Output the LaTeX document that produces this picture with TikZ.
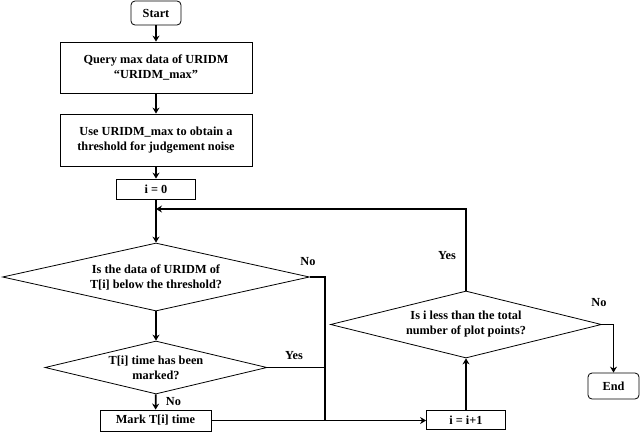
\documentclass[tikz,border=0pt]{standalone}
\usepackage{fontspec}
\setmainfont{Liberation Serif}
\usetikzlibrary{shapes.geometric,arrows.meta}

\begin{document}
\begin{tikzpicture}[x=1pt, y=-1pt,
    font=\fontsize{12.3}{15}\selectfont\bfseries,
    box/.style={draw, line width=0.8pt, align=center, inner sep=0pt},
    term/.style={box, rounded corners=4pt},
    decision/.style={draw, diamond, line width=0.8pt, inner sep=0pt},
    line/.style={line width=1.8pt},
    arr/.style={line, -{Stealth[length=6pt, width=7pt, inset=2pt]}}]
    \useasboundingbox (0,0) rectangle (640,434);

    \node (start) [term, minimum width=50pt, minimum height=24pt] at (156,13) {Start};
    \node (query) [box, minimum width=192pt, minimum height=51pt] at (156,67.5)
      {Query max data of URIDM\\``URIDM\_max''};
    \node (use) [box, minimum width=192pt, minimum height=52pt] at (156,140)
      {Use URIDM\_max to obtain a\\threshold for judgement noise};
    \node (init) [box, minimum width=79pt, minimum height=20pt] at (156,189) {i = 0};

    \node (below) [decision, minimum width=307pt, minimum height=68pt] at (156,277) {};
    \node (belowtext) [align=center] at (below) {Is the data of URIDM of\\T[i] below the threshold?};
    \node (marked) [decision, minimum width=222pt, minimum height=53pt] at (156,367.5) {};
    \node (markedtext) [align=center] at (marked) {T[i] time has been\\marked?};
    \node (mark) [box, minimum width=111pt, minimum height=21pt] at (155.5,420.5) {Mark T[i] time};

    \node (incr) [box, minimum width=79pt, minimum height=19pt] at (466,420) {i = i+1};
    \node (less) [decision, minimum width=271pt, minimum height=67pt] at (466,324.5) {};
    \node (lesstext) [align=center] at (less) {Is i less than the total\\number of plot points?};
    \node (end) [term, minimum width=51pt, minimum height=26pt] at (613.5,386) {End};

    \coordinate (join) at (325,420.5);
    \coordinate (loop) at (156,209);

    \draw[arr] (start) -- (query);
    \draw[arr] (query) -- (use);
    \draw[arr] (use) -- (init);
    \draw[arr] (init) -- (below);
    \draw[arr] (below) -- (marked);
    \draw[arr] (marked) -- node[right=6pt] {No} (mark);

    \draw[line] (below.east) -| (join);
    \draw[line] (marked.east) -- (marked.east -| join);
    \draw[line] (mark.east) -- (join);
    \draw[arr] (join) -- (incr.west |- join);
    \node (no1) at (308,262) {No};
    \node (yes1) at (294,356) {Yes};

    \draw[arr] (incr) -- (less);
    \draw[arr] (less.north) |- (loop);
    \node (yes2) at (447,256) {Yes};
    \draw[arr] (less.east) -| (end.north);
    \node (no2) at (599,303) {No};
\end{tikzpicture}
\end{document}
